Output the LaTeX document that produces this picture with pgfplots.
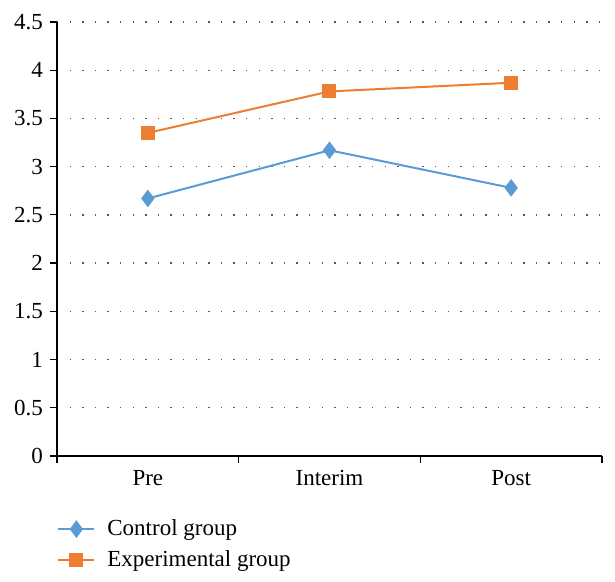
\documentclass[border=0pt]{standalone}
\usepackage{fontspec}
\setmainfont{Liberation Serif}
\usepackage{pgfplots}
\pgfplotsset{compat=1.18}
\definecolor{ctrl}{HTML}{5B9BD5}
\definecolor{expt}{HTML}{ED7D31}
\begin{document}
\begin{tikzpicture}
\begin{axis}[
    scale only axis,
    width=272.5pt, height=217pt,
    xmin=-0.5, xmax=2.5,
    ymin=0, ymax=4.5,
    ytick={0,0.5,...,4.5},
    yticklabels={0,0.5,1,1.5,2,2.5,3,3.5,4,4.5},
    xtick={-0.5,0.5,1.5,2.5},
    x tick label as interval,
    xticklabels={Pre,Interim,Post},
    axis x line*=bottom, axis y line*=left,
    axis line style={-, black, line width=0.8pt},
    tick align=outside,
    major tick length=3.5pt,
    tick style={black, line width=0.6pt},
    ymajorgrids,
    grid style={black!65, line width=0.7pt, dash pattern=on 0.7pt off 5.6pt},
    tick label style={font=\fontsize{11.5}{13}\selectfont},
    /pgf/number format/assume math mode=true,
    clip=false,
    legend style={at={(0,-0.14)}, anchor=north west, draw=none,
        font=\fontsize{11.5}{13}\selectfont, row sep=3.5pt,
        legend cell align=left, inner sep=0pt,
        nodes={inner sep=1pt, text depth=0.2em},
        /tikz/every odd column/.append style={column sep=5pt}},
    legend image code/.code={\draw[mark repeat=2,mark phase=2]
        plot coordinates {(0pt,0pt)(9pt,0pt)(18pt,0pt)};},
]
\addplot[ctrl, line width=1pt, mark=diamond*, mark size=3.6pt,
    mark options={fill=ctrl, draw=ctrl}]
    coordinates {(0,2.67) (1,3.17) (2,2.78)};
\addlegendentry{Control group}
\addplot[expt, line width=1pt, mark=square*, mark size=3pt,
    mark options={fill=expt, draw=expt}]
    coordinates {(0,3.35) (1,3.78) (2,3.87)};
\addlegendentry{Experimental group}
\path (rel axis cs:-0.1046,-0.2903) rectangle (rel axis cs:1.0239,1.0507);
\end{axis}
\end{tikzpicture}
\end{document}
